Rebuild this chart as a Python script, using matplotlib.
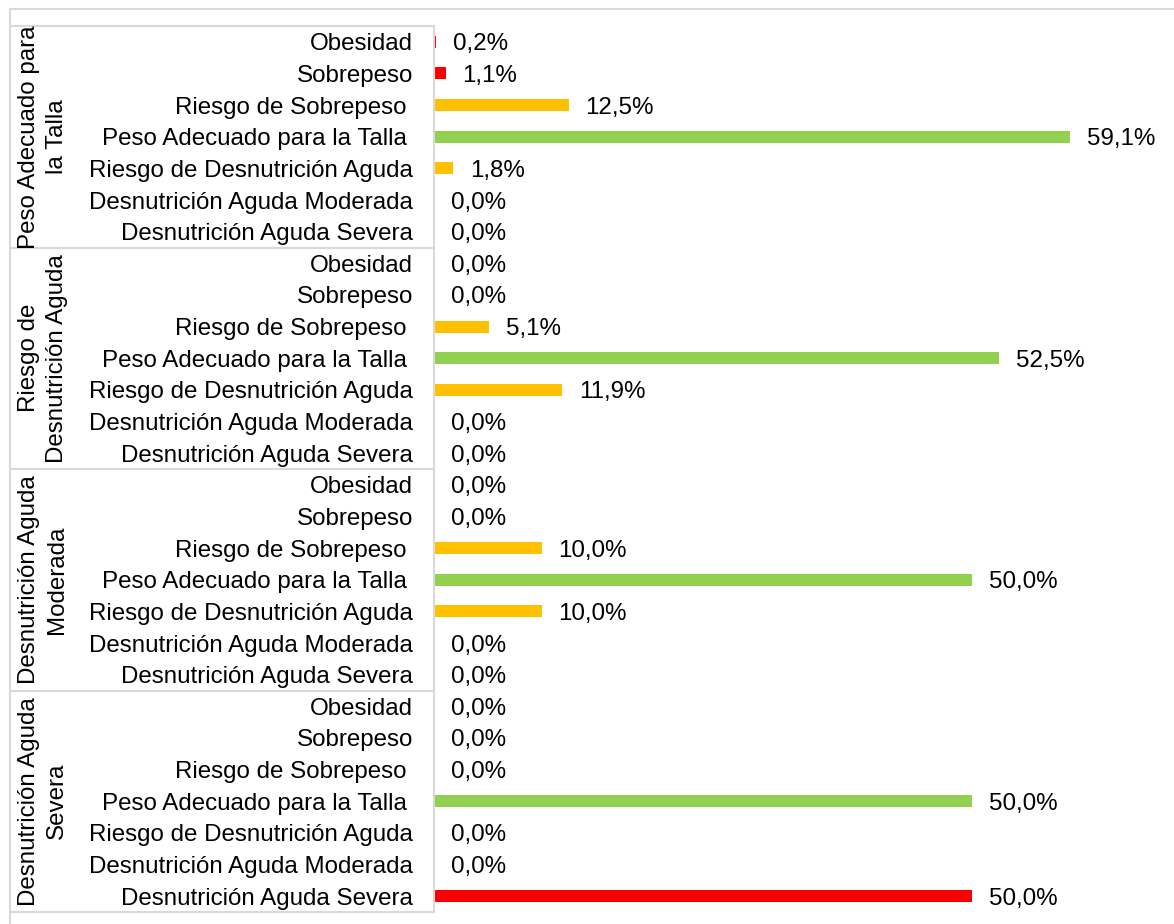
import matplotlib.pyplot as plt
import matplotlib.transforms as mtransforms
from matplotlib.lines import Line2D

# multi-level category chart: group -> category -> percentage
groups = ["Peso Adecuado para\nla Talla",
          "Riesgo de\nDesnutrición Aguda",
          "Desnutrición Aguda\nModerada",
          "Desnutrición Aguda\nSevera"]
categories = ["Obesidad", "Sobrepeso", "Riesgo de Sobrepeso ",
              "Peso Adecuado para la Talla ", "Riesgo de Desnutrición Aguda",
              "Desnutrición Aguda Moderada", "Desnutrición Aguda Severa"]
cat_colors = ["#FF0000", "#FF0000", "#FFC000", "#92D050", "#FFC000",
              "#FF0000", "#FF0000"]
vals_pat = [0.2, 1.1, 12.5, 59.1, 1.8, 0.0, 0.0]
vals_rda = [0.0, 0.0, 5.1, 52.5, 11.9, 0.0, 0.0]
vals_dam = [0.0, 0.0, 10.0, 50.0, 10.0, 0.0, 0.0]
vals_das = [0.0, 0.0, 0.0, 50.0, 0.0, 0.0, 50.0]

plt.rcParams['font.family'] = ['Liberation Sans', 'DejaVu Sans']
FS = 17.4
GRID = "#D9D9D9"

W, H = 1174, 924
fig = plt.figure(figsize=(W / 100, H / 100), dpi=100)
ax = fig.add_axes([434 / W, 1 - 912 / H, (W - 434) / W, (912 - 26) / H])

values = vals_pat + vals_rda + vals_dam + vals_das
labels = categories * 4
colors = cat_colors * 4
ypos = list(range(len(values)))

ax.barh(ypos, values, height=0.38, color=colors)
ax.set_xlim(0, (W - 434) / 10.76)
ax.set_ylim(len(values) - 0.5, -0.5)
ax.set_yticks(ypos)
ax.set_yticklabels(labels, fontsize=FS)
ax.tick_params(axis='y', length=0, pad=15)
ax.set_xticks([])
for s in ax.spines.values():
    s.set_visible(False)

for y, v in zip(ypos, values):
    ax.annotate(f"{v:.1f}%".replace('.', ','), (v, y), xytext=(12, 0),
                textcoords='offset points', va='center_baseline', ha='left',
                fontsize=FS)

# group box lines
tr = mtransforms.blended_transform_factory(fig.transFigure, ax.transData)
for b in [-0.5, 6.5, 13.5, 20.5, 27.5]:
    ax.add_line(Line2D([10 / W, 434 / W], [b, b], transform=tr,
                       color=GRID, lw=1.5, clip_on=False))
ax.add_line(Line2D([434 / W, 434 / W], [-0.5, 27.5], transform=tr,
                   color=GRID, lw=1.5, clip_on=False))

# outer chart border
fig.add_artist(Line2D([10 / W, 10 / W], [0, 1 - 9 / H], color=GRID, lw=1.5))
fig.add_artist(Line2D([10 / W, 1], [1 - 9 / H, 1 - 9 / H], color=GRID, lw=1.5))

for i, g in enumerate(groups):
    yc = i * 7 + 3
    ax.text(43 / W, yc, g, transform=tr, rotation=90, ha='center',
            va='center', fontsize=FS, linespacing=1.3, multialignment='center')

fig.savefig("out.png", dpi=100)
